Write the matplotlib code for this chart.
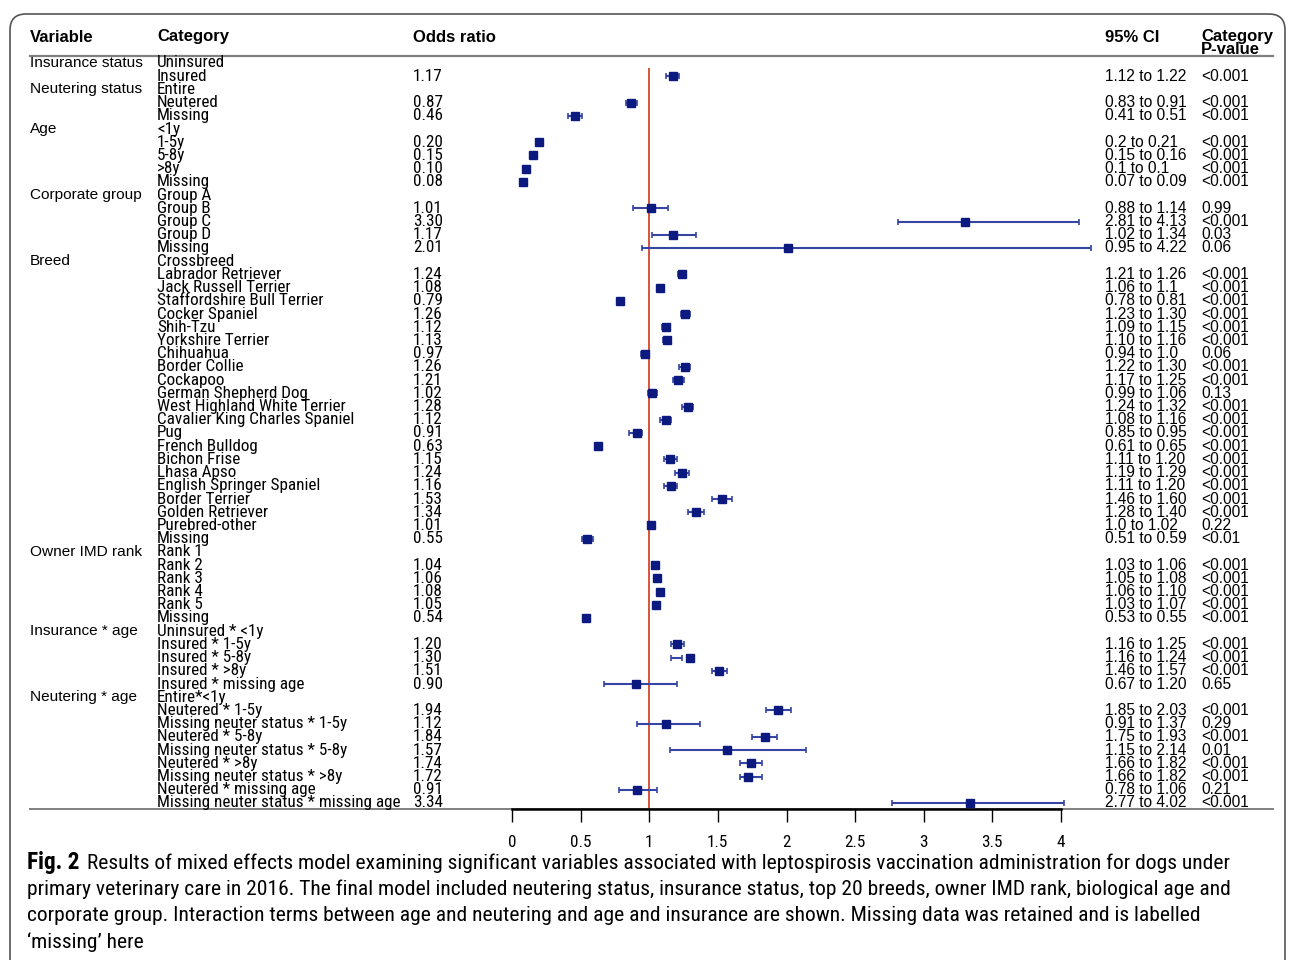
import matplotlib
matplotlib.use("Agg")
import matplotlib.pyplot as plt
import matplotlib.transforms as mtransforms
from matplotlib.patches import FancyBboxPatch
from matplotlib.lines import Line2D
from matplotlib import font_manager
from matplotlib.font_manager import FontProperties

# table data, one entry per row
variables = ["Insurance status", "", "Neutering status", "", "", "Age", "", "", "", "",
             "Corporate group", "", "", "", "", "Breed"] + [""] * 21 + \
            ["Owner IMD rank", "", "", "", "", "", "Insurance * age", "", "", "", "",
             "Neutering * age", "", "", "", "", "", "", "", ""]
categories = ["Uninsured", "Insured", "Entire", "Neutered", "Missing",
              "<1y", "1-5y", "5-8y", ">8y", "Missing",
              "Group A", "Group B", "Group C", "Group D", "Missing",
              "Crossbreed", "Labrador Retriever", "Jack Russell Terrier",
              "Staffordshire Bull Terrier", "Cocker Spaniel", "Shih-Tzu",
              "Yorkshire Terrier", "Chihuahua", "Border Collie", "Cockapoo",
              "German Shepherd Dog", "West Highland White Terrier",
              "Cavalier King Charles Spaniel", "Pug", "French Bulldog",
              "Bichon Frise", "Lhasa Apso", "English Springer Spaniel",
              "Border Terrier", "Golden Retriever", "Purebred-other", "Missing",
              "Rank 1", "Rank 2", "Rank 3", "Rank 4", "Rank 5", "Missing",
              "Uninsured * <1y", "Insured * 1-5y", "Insured * 5-8y",
              "Insured * >8y", "Insured * missing age",
              "Entire*<1y", "Neutered * 1-5y", "Missing neuter status * 1-5y",
              "Neutered * 5-8y", "Missing neuter status * 5-8y",
              "Neutered * >8y", "Missing neuter status * >8y",
              "Neutered * missing age", "Missing neuter status * missing age"]
odds = ["", "1.17", "", "0.87", "0.46",
        "", "0.20", "0.15", "0.10", "0.08",
        "", "1.01", "3.30", "1.17", "2.01",
        "", "1.24", "1.08", "0.79", "1.26", "1.12", "1.13", "0.97", "1.26", "1.21",
        "1.02", "1.28", "1.12", "0.91", "0.63", "1.15", "1.24", "1.16", "1.53",
        "1.34", "1.01", "0.55",
        "", "1.04", "1.06", "1.08", "1.05", "0.54",
        "", "1.20", "1.30", "1.51", "0.90",
        "", "1.94", "1.12", "1.84", "1.57", "1.74", "1.72", "0.91", "3.34"]
ci = ["", "1.12 to 1.22", "", "0.83 to 0.91", "0.41 to 0.51",
      "", "0.2 to 0.21", "0.15 to 0.16", "0.1 to 0.1", "0.07 to 0.09",
      "", "0.88 to 1.14", "2.81 to 4.13", "1.02 to 1.34", "0.95 to 4.22",
      "", "1.21 to 1.26", "1.06 to 1.1", "0.78 to 0.81", "1.23 to 1.30",
      "1.09 to 1.15", "1.10 to 1.16", "0.94 to 1.0", "1.22 to 1.30",
      "1.17 to 1.25", "0.99 to 1.06", "1.24 to 1.32", "1.08 to 1.16",
      "0.85 to 0.95", "0.61 to 0.65", "1.11 to 1.20", "1.19 to 1.29",
      "1.11 to 1.20", "1.46 to 1.60", "1.28 to 1.40", "1.0 to 1.02",
      "0.51 to 0.59",
      "", "1.03 to 1.06", "1.05 to 1.08", "1.06 to 1.10", "1.03 to 1.07",
      "0.53 to 0.55",
      "", "1.16 to 1.25", "1.16 to 1.24", "1.46 to 1.57", "0.67 to 1.20",
      "", "1.85 to 2.03", "0.91 to 1.37", "1.75 to 1.93", "1.15 to 2.14",
      "1.66 to 1.82", "1.66 to 1.82", "0.78 to 1.06", "2.77 to 4.02"]
pvals = ["", "<0.001", "", "<0.001", "<0.001",
         "", "<0.001", "<0.001", "<0.001", "<0.001",
         "", "0.99", "<0.001", "0.03", "0.06",
         "", "<0.001", "<0.001", "<0.001", "<0.001", "<0.001", "<0.001", "0.06",
         "<0.001", "<0.001", "0.13", "<0.001", "<0.001", "<0.001", "<0.001",
         "<0.001", "<0.001", "<0.001", "<0.001", "<0.001", "0.22", "<0.01",
         "", "<0.001", "<0.001", "<0.001", "<0.001", "<0.001",
         "", "<0.001", "<0.001", "<0.001", "0.65",
         "", "<0.001", "0.29", "<0.001", "0.01", "<0.001", "<0.001", "0.21",
         "<0.001"]
xticks = [0, 0.5, 1, 1.5, 2, 2.5, 3, 3.5, 4]

caption = ["Results of mixed effects model examining significant variables associated with leptospirosis vaccination administration for dogs under",
           "primary veterinary care in 2016. The final model included neutering status, insurance status, top 20 breeds, owner IMD rank, biological age and",
           "corporate group. Interaction terms between age and neutering and age and insurance are shown. Missing data was retained and is labelled",
           "\u2018missing\u2019 here"]

# look for a condensed face, otherwise fall back to Liberation Sans
narrow_fam, narrow_stretch = "Liberation Sans", "normal"
for key in ["LiberationSansNarrow", "RobotoCondensed", "Roboto_Condensed", "DejaVuSansCondensed",
            "OpenSans_Condensed", "OpenSansCondensed", "NotoSans-Condensed", "Condensed", "Narrow"]:
    hit = [f for f in font_manager.fontManager.ttflist
           if key.lower() in f.fname.replace(" ", "").lower() and f.style == "normal"]
    if hit:
        narrow_fam, narrow_stretch = hit[0].name, hit[0].stretch
        break
reg = "Liberation Sans"

W, H = 1292, 960
fig = plt.figure(figsize=(W / 100, H / 100), dpi=100)
renderer = fig.canvas.get_renderer()


def nprop(size, weight="normal"):
    return FontProperties(family=narrow_fam, stretch=narrow_stretch, size=size, weight=weight)


def fit(text, target_px, weight="normal"):
    # font size that gives the reference's width in pixels
    t = fig.text(0, 0, text, fontproperties=nprop(10, weight))
    w = t.get_window_extent(renderer).width
    t.remove()
    return 10 * target_px / w


cat_size = min(fit("Staffordshire Bull Terrier", 166), 13.3)
cap_size = min(fit(caption[0], 1134), 17)
fig_size = min(fit("Fig. 2", 53, "bold"), 17)


def fy(py):
    return 1 - py / H


def fx(px):
    return px / W


# forest axes: x 0..4 spans 512..1061 px, rows spaced 13.21 px from y=63
top_px, bot_px = 56, 809
row0, dy = 63, 13.214
ax = fig.add_axes([fx(512), fy(bot_px), fx(1061) - fx(512), (bot_px - top_px) / H])
ax.set_xlim(0, 4)
ybot = (bot_px - row0) / dy
ax.set_ylim(ybot, (top_px - row0) / dy)
for s in ["top", "right", "left"]:
    ax.spines[s].set_visible(False)
ax.spines["bottom"].set_linewidth(1.8)
ax.set_yticks([])
ax.set_xticks(xticks)
ax.set_xticklabels([f"{t:g}" for t in xticks], fontproperties=nprop(cat_size))
ax.tick_params(axis="x", direction="out", length=9, width=1, pad=10)
ax.patch.set_alpha(0)

ax.vlines(1, 0.4, ybot, color="#d2472a", lw=1.3, zorder=1)

yr, orv, lo, hi = [], [], [], []
for i, (o, c) in enumerate(zip(odds, ci)):
    if o:
        a, b = c.split(" to ")
        yr.append(i)
        orv.append(float(o))
        lo.append(float(a))
        hi.append(float(b))
mid = [(a + b) / 2 for a, b in zip(lo, hi)]
half = [(b - a) / 2 for a, b in zip(lo, hi)]
eb = ax.errorbar(mid, yr, xerr=half, fmt="none", ecolor="#3445a3", elinewidth=1.5,
                 capsize=2.5, capthick=1.2, zorder=2)
for art in eb.lines[1] + eb.lines[2]:
    art.set_clip_on(False)
ax.plot(orv, yr, "s", color="#0c1a80", ms=6, zorder=3, clip_on=False)

# text columns: x in figure, y in rows
tr = mtransforms.blended_transform_factory(fig.transFigure, ax.transData)
for i in range(len(categories)):
    if variables[i]:
        fig.text(fx(30), i, variables[i], transform=tr, va="center", fontsize=11.1, family=reg)
    fig.text(fx(157), i, categories[i], transform=tr, va="center", fontproperties=nprop(cat_size))
    if odds[i]:
        fig.text(fx(413), i, odds[i], transform=tr, va="center", fontproperties=nprop(cat_size))
        fig.text(fx(1105), i, ci[i], transform=tr, va="center", fontsize=11.2, family=reg)
        fig.text(fx(1201), i, pvals[i], transform=tr, va="center", fontsize=11.2, family=reg)

# header
for x, t in [(30, "Variable"), (157, "Category"), (413, "Odds ratio"), (1105, "95% CI"), (1201, "Category")]:
    fig.text(fx(x), fy(37), t, va="center", fontsize=12, weight="bold", family=reg)
fig.text(fx(1201), fy(50), "P-value", va="center", fontsize=12, weight="bold", family=reg)

fig.add_artist(Line2D([fx(30), fx(1273)], [fy(56), fy(56)], color="#808080", lw=1.6))
fig.add_artist(Line2D([fx(30), fx(1273)], [fy(809), fy(809)], color="#808080", lw=1.4, zorder=0))

# caption
fig.text(fx(27), fy(863), "Fig. 2", va="center", fontproperties=nprop(fig_size, "bold"))
fig.text(fx(87), fy(863), caption[0], va="center", fontproperties=nprop(cap_size))
for k, line in enumerate(caption[1:]):
    fig.text(fx(27), fy(889 + 26.5 * k), line, va="center", fontproperties=nprop(cap_size))

# rounded frame
frame = FancyBboxPatch((10, -40), 1275, H - 14 + 40, boxstyle="round,pad=0,rounding_size=16",
                       transform=mtransforms.IdentityTransform(), fill=False,
                       edgecolor="#555555", lw=1.2)
fig.add_artist(frame)

fig.savefig("out.png", dpi=100)
